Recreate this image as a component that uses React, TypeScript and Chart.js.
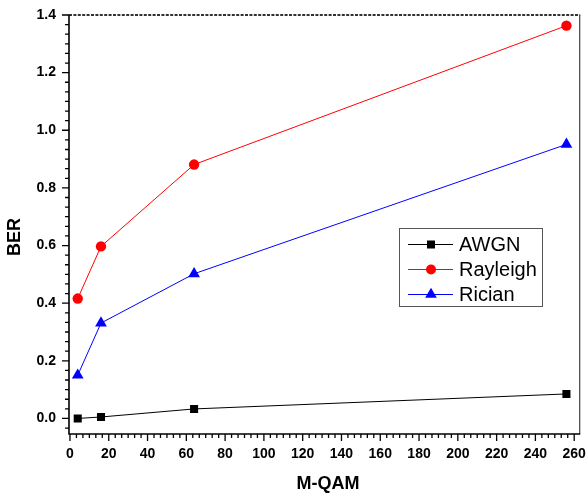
import React, { useEffect, useRef } from 'react';
import { Chart, registerables } from 'chart.js';

Chart.register(...registerables);

const mqam = [4, 16, 64, 256];
const awgn = [0.0, 0.005, 0.033, 0.085];
const rayleigh = [0.416, 0.597, 0.881, 1.363];
const rician = [0.15, 0.331, 0.502, 0.951];
const xTickValues = [0, 20, 40, 60, 80, 100, 120, 140, 160, 180, 200, 220, 240, 260];
const yTickValues = [0, 0.2, 0.4, 0.6, 0.8, 1.0, 1.2, 1.4];
const seriesNames = ['AWGN', 'Rayleigh', 'Rician'];
const seriesColors = ['#000000', '#ff0000', '#0000ff'];
const seriesMarkers = ['rect', 'circle', 'triangle'];
const xTitle = 'M-QAM';
const yTitle = 'BER';

const FONT = '"Liberation Sans", Arial, sans-serif';

function drawMarker(ctx: CanvasRenderingContext2D, style: string, x: number, y: number, color: string) {
  ctx.save();
  ctx.fillStyle = color;
  ctx.beginPath();
  if (style === 'rect') {
    ctx.rect(x - 4, y - 4, 8, 8);
  } else if (style === 'circle') {
    ctx.arc(x, y, 5, 0, Math.PI * 2);
  } else {
    const r = 6.7;
    ctx.moveTo(x, y - r);
    ctx.lineTo(x + r * Math.sin((2 * Math.PI) / 3), y - r * Math.cos((2 * Math.PI) / 3));
    ctx.lineTo(x + r * Math.sin((4 * Math.PI) / 3), y - r * Math.cos((4 * Math.PI) / 3));
    ctx.closePath();
  }
  ctx.fill();
  ctx.restore();
}

const framePlugin = {
  id: 'frameTicks',
  beforeDatasetsDraw(chart: any) {
    const { ctx, chartArea, scales } = chart;
    const { left, right, top, bottom } = chartArea;
    const xs = scales.x;
    const ys = scales.y;
    ctx.save();
    ctx.strokeStyle = '#333';
    ctx.lineWidth = 2;
    ctx.setLineDash([3, 1.4]);
    ctx.beginPath();
    ctx.moveTo(left, top);
    ctx.lineTo(right, top);
    ctx.stroke();
    ctx.setLineDash([]);
    ctx.strokeStyle = '#444';
    ctx.lineWidth = 1.2;
    ctx.beginPath();
    ctx.moveTo(right - 0.5, top);
    ctx.lineTo(right - 0.5, bottom);
    ctx.stroke();
    ctx.strokeStyle = '#000';
    ctx.lineWidth = 1.6;
    ctx.beginPath();
    ctx.moveTo(left, top);
    ctx.lineTo(left, bottom);
    ctx.lineTo(right, bottom);
    ctx.stroke();
    ctx.lineWidth = 1.3;
    ctx.beginPath();
    for (let i = 0; i < xTickValues.length; i++) {
      const v = xTickValues[i];
      const px = xs.getPixelForValue(v);
      ctx.moveTo(px, bottom);
      ctx.lineTo(px, bottom + 7);
      for (let k = 1; k < 6; k++) {
        const mv = v + (k * 20) / 6;
        const mp = xs.getPixelForValue(mv);
        if (mp > right) break;
        ctx.moveTo(mp, bottom);
        ctx.lineTo(mp, bottom + 4);
      }
    }
    ctx.stroke();
    ctx.beginPath();
    const yMinor = [-0.2, ...yTickValues];
    for (let i = 0; i < yMinor.length; i++) {
      const v = yMinor[i];
      if (v >= ys.min) {
        const py = ys.getPixelForValue(v);
        ctx.moveTo(left, py);
        ctx.lineTo(left - 7, py);
      }
      for (let k = 1; k < 6; k++) {
        const mv = v + (k * 0.2) / 6;
        if (mv < ys.min || mv > ys.max + 1e-9) continue;
        const mp = ys.getPixelForValue(mv);
        ctx.moveTo(left, mp);
        ctx.lineTo(left - 4, mp);
      }
    }
    ctx.stroke();
    ctx.fillStyle = '#000';
    ctx.font = `bold 18px ${FONT}`;
    ctx.textAlign = 'center';
    ctx.textBaseline = 'middle';
    ctx.fillText(xTitle, 328, 484);
    ctx.translate(15, 237);
    ctx.rotate(-Math.PI / 2);
    ctx.fillText(yTitle, 0, 0);
    ctx.restore();
  },
  afterDraw(chart: any) {
    const { ctx } = chart;
    ctx.save();
    ctx.fillStyle = '#fff';
    ctx.fillRect(399, 228, 143, 78);
    ctx.strokeStyle = '#555';
    ctx.lineWidth = 1;
    ctx.strokeRect(399.5, 228.5, 143, 78);
    const rows = [244, 269, 294];
    ctx.font = `20px ${FONT}`;
    ctx.textAlign = 'left';
    ctx.textBaseline = 'middle';
    for (let i = 0; i < seriesNames.length; i++) {
      const y = rows[i];
      ctx.strokeStyle = seriesColors[i];
      ctx.lineWidth = 1;
      ctx.beginPath();
      ctx.moveTo(408, y + 0.5);
      ctx.lineTo(453, y + 0.5);
      ctx.stroke();
      drawMarker(ctx, seriesMarkers[i], 431, y + 0.5, seriesColors[i]);
      ctx.fillStyle = '#000';
      ctx.fillText(seriesNames[i], 459, y + 1);
    }
    ctx.restore();
  },
};

export default function App() {
  const ref = useRef<HTMLCanvasElement | null>(null);
  useEffect(() => {
    if (!ref.current) return;
    const toPts = (arr: number[]) => arr.map((v, i) => ({ x: mqam[i], y: v }));
    const all = [awgn, rayleigh, rician];
    const chart = new Chart(ref.current, {
      type: 'line',
      data: {
        datasets: all.map((arr, i) => ({
          label: seriesNames[i],
          data: toPts(arr),
          borderColor: seriesColors[i],
          backgroundColor: seriesColors[i],
          pointBorderColor: seriesColors[i],
          borderWidth: 1,
          pointStyle: seriesMarkers[i] as any,
          pointRadius: i === 0 ? 5.7 : i === 1 ? 5.2 : 6.8,
          pointBorderWidth: 0,
          pointHoverRadius: 0,
          tension: 0,
          fill: false,
        })),
      },
      options: {
        animation: false,
        responsive: false,
        devicePixelRatio: 1,
        layout: { padding: { top: 15, right: 1, left: 0, bottom: 0 } },
        plugins: { legend: { display: false }, tooltip: { enabled: false } },
        scales: {
          x: {
            type: 'linear',
            min: -0.5,
            max: 263.1,
            afterBuildTicks: (s: any) => {
              s.ticks = xTickValues.map((v) => ({ value: v }));
            },
            afterFit: (s: any) => {
              s.height = 60;
              s.paddingLeft = 0;
              s.paddingRight = 0;
            },
            grid: { display: false, drawTicks: false },
            border: { display: false },
            ticks: {
              color: '#000',
              font: { family: FONT, size: 14, weight: 'bold' },
              padding: 12,
              maxRotation: 0,
              autoSkip: false,
              callback: (v: any) => String(v),
            },
          },
          y: {
            type: 'linear',
            min: -0.054,
            max: 1.4,
            afterBuildTicks: (s: any) => {
              s.ticks = yTickValues.map((v) => ({ value: v }));
            },
            afterFit: (s: any) => {
              s.width = 69;
              s.paddingTop = 0;
              s.paddingBottom = 0;
            },
            grid: { display: false, drawTicks: false },
            border: { display: false },
            ticks: {
              color: '#000',
              font: { family: FONT, size: 14, weight: 'bold' },
              padding: 13,
              autoSkip: false,
              callback: (v: any) => Number(v).toFixed(1),
            },
          },
        },
      } as any,
      plugins: [framePlugin],
    });
    return () => chart.destroy();
  }, []);
  return (
    <div style={{ position: 'fixed', left: 0, top: 0, width: 587, height: 494, background: '#fff' }}>
      <canvas ref={ref} width={587} height={494} style={{ display: 'block' }} />
    </div>
  );
}
